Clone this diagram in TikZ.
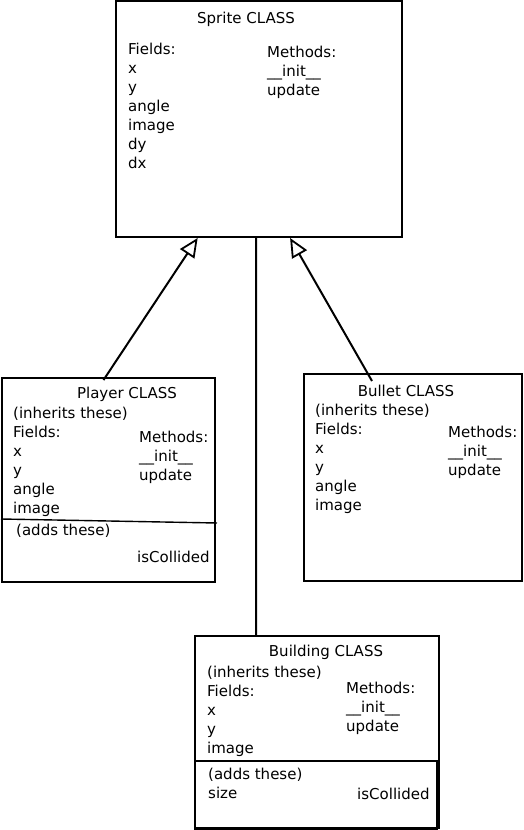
\documentclass[tikz,border=0pt]{standalone}
\usepackage{fontspec}
\setmainfont{DejaVu Sans}
\usetikzlibrary{arrows.meta, positioning, calc}
\tikzset{
  classbox/.style={draw=black, line width=2pt, fill=none, inner sep=0pt},
  classtitle/.style={font=\fontsize{15}{19}\selectfont, anchor=base},
  classtext/.style={font=\fontsize{15}{19}\selectfont, align=left, anchor=north west,
    inner sep=0pt},
  inheritarrow/.style={-{Triangle[open, length=19pt, width=17pt, line width=1.8pt]},
    line width=2pt},
  inheritline/.style={line width=2pt},
}
\begin{document}
\begin{tikzpicture}[x=1pt, y=-1pt]
  \useasboundingbox (0,0) rectangle (523,830);
  % class boxes
  \node[classbox, minimum width=286pt, minimum height=236pt] (sprite) at (259,119) {};
  \node[classbox, minimum width=213pt, minimum height=204pt] (player) at (108.5,480) {};
  \node[classbox, minimum width=218pt, minimum height=207pt] (bullet) at (413,477.5) {};
  \node[classbox, minimum width=244pt, minimum height=192pt] (building) at (317,732) {};
  \node[classbox, minimum width=242pt, minimum height=68pt, anchor=north west]
    (buildinglow) at (building.west |- 0,760) {};

  % Sprite
  \node[classtitle] (spritename) at (246,23) {Sprite CLASS};
  \node[classtext] (spritefields) at (128,43) {Fields:\\x\\y\\angle\\image\\dy\\dx};
  \node[classtext] (spritemethods) at (267,46) {Methods:\\\_\_init\_\_\\update};

  % Player
  \node[classtitle] (playername) at (127,398) {Player CLASS};
  \node[classtext] (playerfields) at (13,407) {(inherits these)\\Fields:\\x\\y\\angle\\image};
  \node[classtext] (playermethods) at (139,431) {Methods:\\\_\_init\_\_\\update};
  \coordinate (playercut) at (217,523);
  \draw[line width=1.4pt] (player.west |- 0,519) -- (playercut);
  \node[classtext] (playeradds) at (16,524) {(adds these)};
  \node[classtext] (playernew) at (137,551) {isCollided};

  % Bullet
  \node[classtitle] (bulletname) at (406,396) {Bullet CLASS};
  \node[classtext] (bulletfields) at (315,404) {(inherits these)\\Fields:\\x\\y\\angle\\image};
  \node[classtext] (bulletmethods) at (448,426) {Methods:\\\_\_init\_\_\\update};

  % Building
  \node[classtitle] (buildingname) at (326,656) {Building CLASS};
  \node[classtext] (buildingfields) at (207,666) {(inherits these)\\Fields:\\x\\y\\image};
  \node[classtext] (buildingmethods) at (346,682) {Methods:\\\_\_init\_\_\\update};
  \node[classtext] (buildingadds) at (208,768) {(adds these)\\size};
  \node[classtext] (buildingnew) at (357,788) {isCollided};

  % inheritance
  \coordinate (playerend) at ($(player.north)+(-5,3)$);
  \coordinate (bulletend) at ($(bullet.north)+(-41,8)$);
  \draw[inheritarrow] (playerend) -- ($(sprite.south west)!0.287!(sprite.south east)$);
  \draw[inheritarrow] (bulletend) -- ($(sprite.south west)!0.608!(sprite.south east)$);
  \draw[inheritline] ($(sprite.south west)!0.49!(sprite.south east)$) -- (building.north -| 256,0);
\end{tikzpicture}
\end{document}
